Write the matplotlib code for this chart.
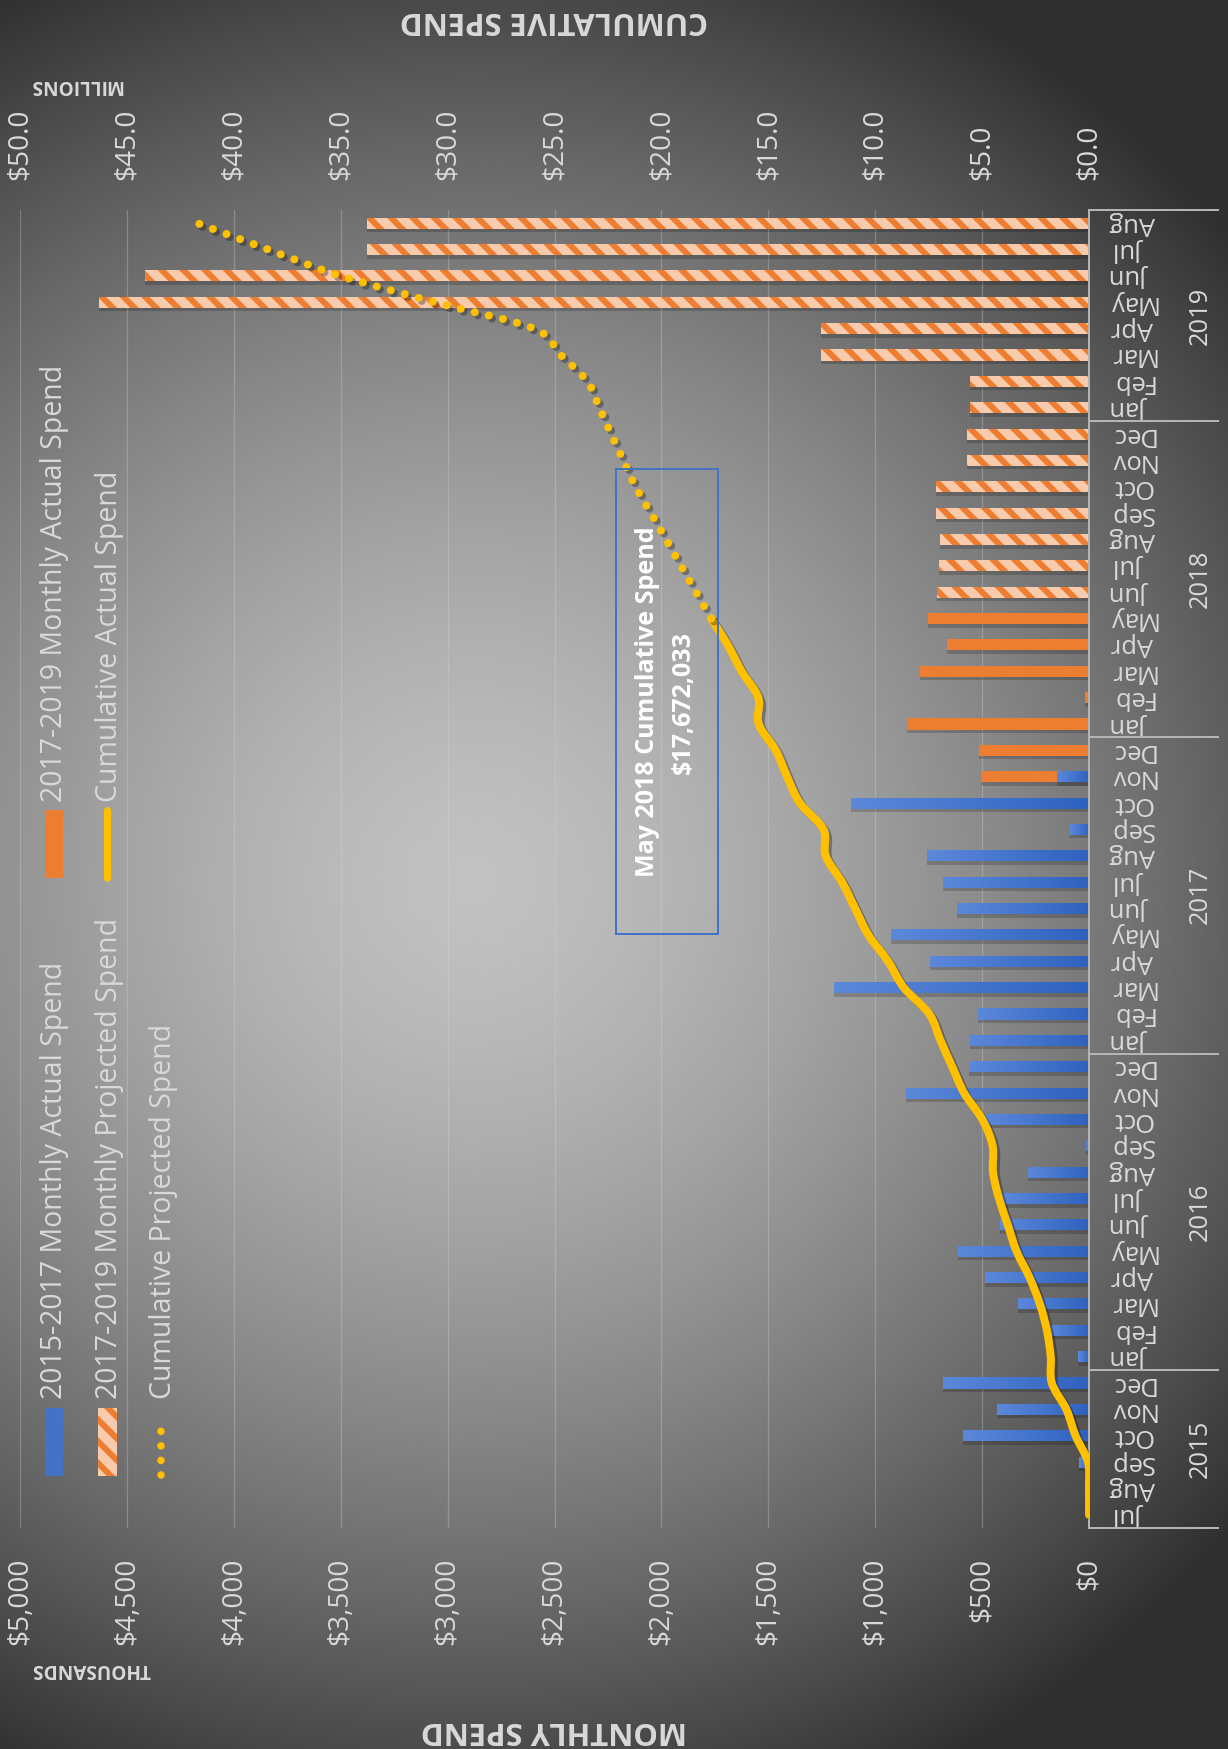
import numpy as np
import matplotlib
matplotlib.use('Agg')
import matplotlib.pyplot as plt
import matplotlib.patheffects as pe
from matplotlib.colors import LinearSegmentedColormap
from matplotlib.lines import Line2D
from matplotlib.patches import PathPatch, Rectangle
from matplotlib.path import Path
from matplotlib.transforms import blended_transform_factory

plt.rcParams['font.family'] = ['Open Sans', 'DejaVu Sans']

W, H, DPI = 1228, 1749, 130
plt.rcParams['hatch.linewidth'] = 6 * 72 / DPI


def px(v):
    # pixels -> points
    return v * 72 / DPI


def fx(x):
    return x / W


def fy(y):
    return 1 - y / H


# ---- data: monthly spend in $K, cumulative in $M ----
month_names = ['Jan', 'Feb', 'Mar', 'Apr', 'May', 'Jun',
               'Jul', 'Aug', 'Sep', 'Oct', 'Nov', 'Dec']
months = month_names[6:] + month_names * 3 + month_names[:8]   # Jul 2015 .. Aug 2019
years = ['2015', '2016', '2017', '2018', '2019']
months_in_year = [6, 12, 12, 12, 8]

# Jul 2015 .. Nov 2017
actual_1517 = [0, 0, 48, 588, 428, 681,
               53, 177, 334, 486, 611, 414, 406, 283, 16, 481, 855, 559,
               555, 517, 1192, 742, 925, 616, 681, 756, 91, 1112, 152]
# Nov 2017 .. May 2018
actual_1719 = [506, 516, 850, 20, 789, 664, 752]
# Jun 2018 .. Aug 2019
projected_1719 = [709, 700, 697, 716, 716, 571, 571,
                  556, 556, 1253, 1253, 4630, 4415, 3378, 3378]
# Jul 2015 .. May 2018
cum_actual = [0, 0, 0.05, 0.63, 1.06, 1.74,
              1.79, 1.97, 2.30, 2.78, 3.39, 3.80, 4.21, 4.49, 4.51, 4.99, 5.84, 6.40,
              6.95, 7.47, 8.66, 9.40, 10.32, 10.94, 11.55, 12.32, 12.42, 13.52, 14.12, 14.65,
              15.45, 15.47, 16.25, 16.90, 17.67]
# May 2018 .. Aug 2019
cum_projected = [17.67, 18.38, 19.08, 19.78, 20.49, 21.21, 21.78, 22.35,
                 22.90, 23.46, 24.71, 25.96, 30.59, 35.01, 38.39, 41.70]

TXT = '#d9d9d9'
AX_C = '#b4b4b4'
GOLD = '#FFC000'
BLUE = '#4472C4'
ORANGE = '#ED7D31'
PEACH = '#F8CBAD'

n = len(months)
idx = np.arange(n)
blue_idx = idx[:len(actual_1517)]
orange_idx = idx[len(actual_1517) - 1:len(actual_1517) - 1 + len(actual_1719)]
proj_idx = idx[n - len(projected_1719):]
cum_a_idx = idx[:len(cum_actual)]
cum_p_idx = idx[len(cum_actual) - 1:]


def smooth_path(xs, ys):
    # Catmull-Rom through the points, like Excel's smoothed line
    P = np.column_stack([xs, ys]).astype(float)
    verts, codes = [P[0]], [Path.MOVETO]
    for k in range(len(P) - 1):
        p0 = P[k - 1] if k > 0 else P[k]
        p1, p2 = P[k], P[k + 1]
        p3 = P[k + 2] if k + 2 < len(P) else P[k + 1]
        verts += [p1 + (p2 - p0) / 6, p2 - (p3 - p1) / 6, p2]
        codes += [Path.CURVE4] * 3
    return Path(verts, codes)


fig = plt.figure(figsize=(W / DPI, H / DPI), dpi=DPI)

# radial grey background
bg = fig.add_axes([0, 0, 1, 1])
yy, xx = np.mgrid[0:H:3, 0:W:3]
r = np.clip(np.hypot(xx - 470, yy - 880) / 1000, 0, 1)
bg.imshow(193 - 145 * r ** 1.5, cmap='gray', vmin=0, vmax=255,
          aspect='auto', interpolation='bilinear')
bg.axis('off')

ax = fig.add_axes([fx(20), fy(1528), (1089 - 20) / W, (1528 - 210) / H])
ax.patch.set_alpha(0)
BAR_H = 0.42
sh = 3.5 / 26.36

# soft-ish bar shadows
for ii, vals in [(blue_idx, actual_1517), (orange_idx, actual_1719), (proj_idx, projected_1719)]:
    ax.barh(ii - sh, vals, height=BAR_H, color='black', alpha=0.18, lw=0, zorder=1)

ax.barh(orange_idx, actual_1719, height=BAR_H, color=ORANGE, lw=0, zorder=2)
ax.barh(proj_idx, projected_1719, height=BAR_H, facecolor=PEACH,
        edgecolor=ORANGE, hatch='\\\\', lw=0, zorder=2)

blue_cmap = LinearSegmentedColormap.from_list('bl', ['#5c88da', '#2f62bf'])
grad = np.linspace(0, 1, 64).reshape(1, -1)
bars = ax.barh(blue_idx, actual_1517, height=BAR_H, color=BLUE, lw=0, zorder=3)
for bar in bars:
    w = bar.get_width()
    if w <= 0:
        continue
    y0, h = bar.get_y(), bar.get_height()
    im = ax.imshow(grad, cmap=blue_cmap, extent=[w, 0, y0, y0 + h],
                   aspect='auto', interpolation='bilinear', zorder=3.1)
    im.set_clip_path(bar)

ax.set_xlim(5000, 0)
ax.set_ylim(-0.5, n - 0.5)
ax.set_xticks(np.arange(0, 5001, 500))
ax.xaxis.set_major_formatter(lambda v, p: f'${v:,.0f}')
ax.tick_params(axis='x', length=0, pad=px(30), labelsize=px(28),
               labelcolor=TXT, labelrotation=90)
ax.set_yticks([])
ax.grid(axis='x', color='#d8d8d8', alpha=0.3, lw=px(1.3))
ax.set_axisbelow(True)
for s in ['top', 'left', 'bottom']:
    ax.spines[s].set_visible(False)
ax.spines['right'].set_color(AX_C)
ax.spines['right'].set_linewidth(px(2))
ax.spines['right'].set_zorder(4)

# cumulative axis (top)
ax2 = ax.twiny()
ax2.set_xlim(50, 0)
ax2.set_xticks(np.arange(0, 51, 5))
ax2.xaxis.set_major_formatter(lambda v, p: f'${v:.1f}')
ax2.tick_params(axis='x', length=0, pad=px(30), labelsize=px(28),
                labelcolor=TXT, labelrotation=90)
for s in ax2.spines.values():
    s.set_visible(False)

shadow = [pe.SimpleLineShadow(offset=(px(3), -px(3)), shadow_color='black', alpha=0.3), pe.Normal()]
ax2.add_patch(PathPatch(smooth_path(cum_actual, cum_a_idx), fill=False, edgecolor=GOLD,
                        lw=px(8), capstyle='round', joinstyle='round', zorder=5,
                        path_effects=shadow))
ax2.add_patch(PathPatch(smooth_path(cum_projected, cum_p_idx), fill=False, edgecolor=GOLD,
                        lw=px(8), linestyle=(0, (0.01, 1.8)), capstyle='round', zorder=5,
                        path_effects=shadow))

# category axis: month / year labels and separators
tr = blended_transform_factory(ax.transAxes, ax.transData)
x_end = (1218 - 20) / (1089 - 20)
bounds = np.concatenate([[0], np.cumsum(months_in_year)]) - 0.5
for b in bounds:
    ax.plot([1, x_end], [b, b], transform=tr, color=AX_C, lw=px(2), clip_on=False, zorder=4)
for i, m in enumerate(months):
    ax.text((1132 - 20) / 1069, i, m, transform=tr, rotation=180, ha='center', va='center',
            fontsize=px(25.5), color=TXT)
for k, yr in enumerate(years):
    ax.text((1200 - 20) / 1069, (bounds[k] + bounds[k + 1]) / 2, yr, transform=tr,
            rotation=90, ha='center', va='center', fontsize=px(25.5), color=TXT)

# axis titles
fig.text(fx(554), fy(20), 'CUMULATIVE SPEND', rotation=180, ha='center', va='center',
         fontsize=px(31), fontweight='bold', color=TXT)
fig.text(fx(554), fy(1730), 'MONTHLY SPEND', rotation=180, ha='center', va='center',
         fontsize=px(31), fontweight='bold', color=TXT)
fig.text(fx(76), fy(85), 'MILLIONS', rotation=180, ha='center', va='center',
         fontsize=px(19), fontweight='bold', color=TXT)
fig.text(fx(91), fy(1669), 'THOUSANDS', rotation=180, ha='center', va='center',
         fontsize=px(19), fontweight='bold', color=TXT)

# legend (rotated, drawn by hand)
fig.add_artist(Rectangle((fx(45), fy(1476)), 18 / W, 68 / H, transform=fig.transFigure,
                         color=BLUE, lw=0))
fig.add_artist(Rectangle((fx(45), fy(878)), 18 / W, 68 / H, transform=fig.transFigure,
                         color=ORANGE, lw=0))
fig.add_artist(Rectangle((fx(98), fy(1476)), 19 / W, 68 / H, transform=fig.transFigure,
                         facecolor=PEACH, edgecolor=ORANGE, hatch='\\\\', lw=0))
fig.add_artist(Line2D([fx(107), fx(107)], [fy(878), fy(810)], transform=fig.transFigure,
                      color=GOLD, lw=px(7), solid_capstyle='round'))
fig.add_artist(Line2D([fx(161), fx(161)], [fy(1475), fy(1417)], transform=fig.transFigure,
                      color=GOLD, lw=px(7.5), linestyle=(0, (0.01, 1.93)), dash_capstyle='round'))
leg = [(55, 1399, '2015-2017 Monthly Actual Spend'),
       (55, 802, '2017-2019 Monthly Actual Spend'),
       (110, 1399, '2017-2019 Monthly Projected Spend'),
       (110, 802, 'Cumulative Actual Spend'),
       (163, 1399, 'Cumulative Projected Spend')]
for x, y, t in leg:
    fig.text(fx(x), fy(y), t, rotation=90, ha='center', va='bottom',
             fontsize=px(28.5), color=TXT)

# call-out box
fig.add_artist(Rectangle((fx(616), fy(934)), 102 / W, 465 / H, transform=fig.transFigure,
                         fill=False, edgecolor=BLUE, lw=px(2)))
fig.text(fx(648), fy(702), 'May 2018 Cumulative Spend', rotation=90, ha='center',
         va='center', fontsize=px(25), fontweight='bold', color='white')
fig.text(fx(683), fy(702), '$17,672,033', rotation=90, ha='center',
         va='center', fontsize=px(25), fontweight='bold', color='white')

fig.savefig('out.png', dpi=DPI)
